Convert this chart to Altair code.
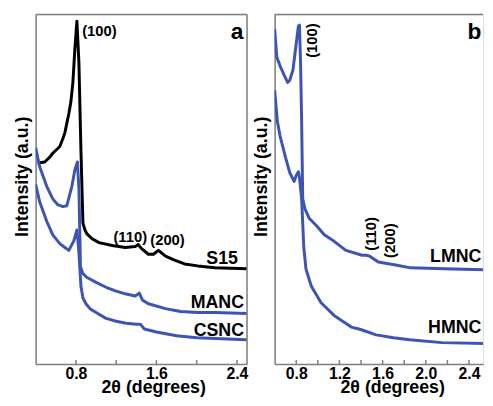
import altair as alt
import pandas as pd

FONT = "Liberation Sans"
BLUE = "#3c55b4"
BLACK = "#000000"
GRAY = "#7f7f7f"

# ---------------- Panel a data ----------------
s15_x = [0.42, 0.49, 0.54, 0.57, 0.64, 0.67, 0.69, 0.71, 0.73, 0.75, 0.77, 0.79, 0.81, 0.83, 0.85,
         0.87, 0.89, 0.91, 0.96, 1.03, 1.16, 1.29, 1.39, 1.42, 1.45, 1.52, 1.57, 1.62, 1.69, 1.78,
         1.88, 2.01, 2.18, 2.50]
s15_y = [207, 208, 213, 217, 224, 232, 238, 248, 258, 270, 290, 325, 353, 310, 220,
         145, 138, 134, 129, 125, 122, 120, 121, 123, 119, 113, 113, 117, 111, 107,
         103, 101, 99, 98]

manc_x = [0.40, 0.44, 0.51, 0.57, 0.62, 0.67, 0.71, 0.76, 0.79, 0.815, 0.83, 0.84, 0.845, 0.87,
          0.91, 1.00, 1.10, 1.20, 1.30, 1.39, 1.43, 1.46, 1.52, 1.69, 1.84, 2.01, 2.18, 2.50]
manc_y = [223, 203, 183, 170, 164, 162, 163, 183, 200, 208, 180, 130, 100, 93,
          89, 84, 79, 75, 72, 70, 73, 66, 62, 57, 54, 53, 53, 52]

csnc_x = [0.40, 0.44, 0.51, 0.57, 0.64, 0.69, 0.73, 0.78, 0.81, 0.83, 0.85, 0.87, 0.90, 0.94,
          1.00, 1.10, 1.20, 1.30, 1.40, 1.44, 1.48, 1.60, 1.80, 2.00, 2.50]
csnc_y = [185, 167, 147, 133, 124, 120, 117, 127, 138, 115, 80, 68, 62, 57,
          53, 47, 44, 42, 41, 41, 36, 33, 29, 27, 25]

# ---------------- Panel b data ----------------
lmnc_x = [0.60, 0.62, 0.65, 0.69, 0.72, 0.74, 0.77, 0.80, 0.82, 0.83, 0.84, 0.85, 0.86, 0.88,
          0.92, 0.99, 1.06, 1.13, 1.26, 1.41, 1.45, 1.48, 1.56, 1.72, 1.86, 2.17, 2.60]
lmnc_y = [345, 316, 307, 297, 290, 292, 303, 330, 348, 349, 310, 250, 170, 160,
          150, 142, 133, 128, 117, 112, 112, 111, 105, 102, 99, 98, 97]

hmnc_x = [0.60, 0.625, 0.65, 0.70, 0.74, 0.78, 0.80, 0.82, 0.83, 0.85, 0.87, 0.89, 0.92, 0.94,
          1.03, 1.15, 1.31, 1.38, 1.41, 1.54, 1.70, 1.85, 2.15, 2.60]
hmnc_y = [282, 250, 235, 213, 197, 188, 194, 198, 192, 170, 120, 98, 87, 80,
          63, 50, 38, 36, 35, 30, 27, 25, 22, 21]

# ---------------- Axis ticks / labels ----------------
a_domain = [0.4, 2.5]
a_labels = [0.8, 1.6, 2.4]
a_ticks = [0.8, 1.2, 1.6, 2.0, 2.4]

b_domain = [0.6, 2.53]          # panel b runs off the right edge of the figure
b_labels = [0.8, 1.2, 1.6, 2.0, 2.4]
b_ticks = [0.8, 1.0, 1.2, 1.4, 1.6, 1.8, 2.0, 2.2, 2.4]

# annotation texts (x, y in data units)
a_series_names = ["S15", "MANC", "CSNC"]
a_series_colors = [BLACK, BLUE, BLUE]
a_series_lx = [2.41, 2.47, 2.47]
a_series_ly = [108, 63, 34]
a_peak_text = ["(100)", "(110)", "(200)"]
a_peak_x = [0.862, 1.34, 1.71]
a_peak_y = [343, 131, 128]
a_peak_align = ["left", "center", "center"]

b_series_names = ["LMNC", "HMNC"]
b_series_colors = [BLUE, BLUE]
b_series_lx = [2.515, 2.515]
b_series_ly = [110, 37]
b_peak_text = ["(100)", "(110)", "(200)"]
b_peak_x = [0.95, 1.49, 1.67]
b_peak_y = [333, 134, 127]
b_peak_align = ["center", "center", "center"]

Y_DOMAIN = [0, 360]
W_A, W_B, H = 214, 211, 354


def lines_df(names, colors, xs, ys):
    rows = []
    for n, c, xx, yy in zip(names, colors, xs, ys):
        for i, (a, b) in enumerate(zip(xx, yy)):
            rows.append({"series": n, "col": c, "x": a, "y": b, "i": i})
    return pd.DataFrame(rows)


def panel(df, names, domain, labels, ticks, width, series_lx, series_ly,
          peak_text, peak_x, peak_y, peak_aligns, peak_angle, letter, letter_x, closed_right):
    xs = alt.Scale(domain=domain, nice=False, zero=False)
    ys = alt.Scale(domain=Y_DOMAIN, nice=False, zero=False)
    x_axis = alt.Axis(values=labels, format=".1f", ticks=False, grid=False,
                      domain=True, domainColor=GRAY, domainWidth=1.5,
                      labelFont=FONT, labelFontWeight="bold", labelFontSize=16,
                      labelColor="black", labelPadding=2, labelFlush=False,
                      title="2θ (degrees)", titleFont=FONT, titleFontWeight="bold",
                      titleFontSize=18, titleColor="black", titlePadding=-3, titleX=119)
    y_axis = alt.Axis(labels=False, ticks=False, grid=False,
                      domain=True, domainColor=GRAY, domainWidth=1.5,
                      title="Intensity (a.u.)", titleFont=FONT, titleFontWeight="bold",
                      titleFontSize=18, titleColor="black", titlePadding=4, titleY=164)

    def X():
        return alt.X("x:Q", scale=xs, axis=x_axis)

    def Y():
        return alt.Y("y:Q", scale=ys, axis=y_axis)

    lines = alt.Chart(df).mark_line(strokeWidth=3, strokeJoin="round", clip=True).encode(
        x=X(), y=Y(),
        color=alt.Color("col:N", scale=None, legend=None),
        detail="series:N",
        order="i:Q",
    )

    tick_df = pd.DataFrame({"x": ticks})
    tick_rules = alt.Chart(tick_df).mark_rule(color=GRAY, strokeWidth=1.5).encode(
        x=X(), y=alt.value(H), y2=alt.value(H - 4),
    )

    sl = pd.DataFrame({"x": series_lx, "y": series_ly, "t": names})
    series_text = alt.Chart(sl).mark_text(font=FONT, fontWeight="bold", fontSize=18,
                                          align="right", baseline="middle", color="black").encode(
        x=X(), y=Y(), text="t:N")

    layers = [lines, tick_rules, series_text]
    for t, px, py, al in zip(peak_text, peak_x, peak_y, peak_aligns):
        d = pd.DataFrame({"x": [px], "y": [py], "t": [t]})
        kw = dict(font=FONT, fontWeight="bold", fontSize=15, align=al, baseline="middle",
                  color="black")
        if peak_angle:
            kw["angle"] = peak_angle
        layers.append(alt.Chart(d).mark_text(**kw).encode(x=X(), y=Y(), text="t:N"))

    ld = pd.DataFrame({"x": [letter_x], "y": [342], "t": [letter]})
    layers.append(alt.Chart(ld).mark_text(font=FONT, fontWeight="bold", fontSize=23,
                                          align="right", baseline="middle", color="black").encode(
        x=X(), y=Y(), text="t:N"))

    # frame: top edge always, right edge only where the panel is not cut off
    frame_df = pd.DataFrame({"x": [domain[0]]})
    layers.append(alt.Chart(frame_df).mark_rule(color=GRAY, strokeWidth=1.5).encode(
        x=alt.value(0), x2=alt.value(width), y=alt.value(0)))
    if closed_right:
        layers.append(alt.Chart(frame_df).mark_rule(color=GRAY, strokeWidth=1.5).encode(
            x=alt.value(width), y=alt.value(0), y2=alt.value(H)))

    return alt.layer(*layers).properties(width=width, height=H)


df_a = lines_df(a_series_names, a_series_colors, [s15_x, manc_x, csnc_x], [s15_y, manc_y, csnc_y])
df_b = lines_df(b_series_names, b_series_colors, [lmnc_x, hmnc_x], [lmnc_y, hmnc_y])

pa = panel(df_a, a_series_names, a_domain, a_labels, a_ticks, W_A,
           a_series_lx, a_series_ly, a_peak_text, a_peak_x, a_peak_y, a_peak_align, 0, "a", 2.465,
           True)
pb = panel(df_b, b_series_names, b_domain, b_labels, b_ticks, W_B,
           b_series_lx, b_series_ly, b_peak_text, b_peak_x, b_peak_y, b_peak_align, 270, "b", 2.515,
           False)

chart = alt.hconcat(pa, pb, spacing=3).properties(
    padding={"left": 5, "top": 2, "right": 0, "bottom": 0}
).configure_view(stroke="transparent").configure(background="white")

chart.save("out.html", embed_options={"renderer": "svg", "actions": False})
